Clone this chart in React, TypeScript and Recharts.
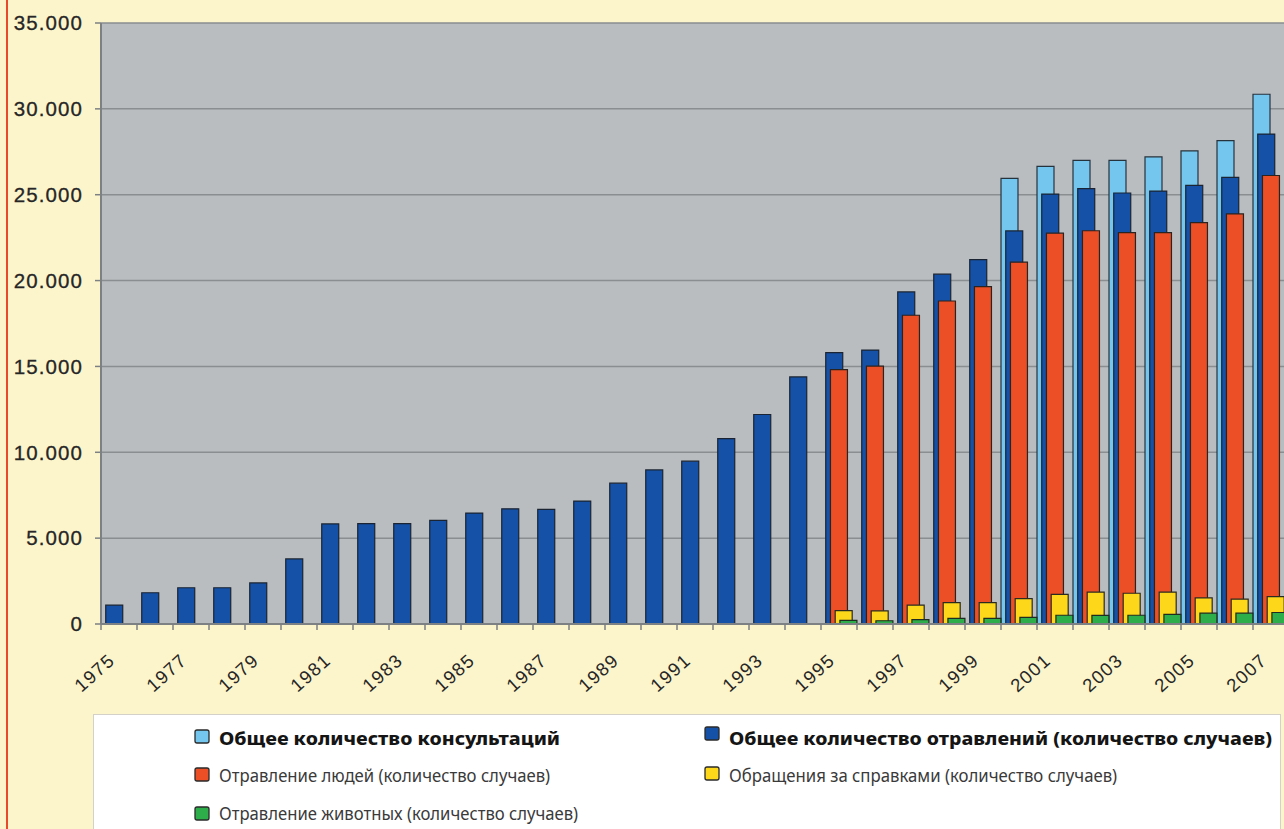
import React from 'react';
import { BarChart, Bar, XAxis, YAxis, CartesianGrid, Legend } from 'recharts';

const years = [
  '1975', '1976', '1977', '1978', '1979', '1980', '1981', '1982', '1983', '1984',
  '1985', '1986', '1987', '1988', '1989', '1990', '1991', '1992', '1993', '1994',
  '1995', '1996', '1997', '1998', '1999', '2000', '2001', '2002', '2003', '2004',
  '2005', '2006', '2007',
];

// Общее количество консультаций
const consultations: (number | null)[] = [
  null, null, null, null, null, null, null, null, null, null,
  null, null, null, null, null, null, null, null, null, null,
  null, null, null, null, null, 25950, 26650, 27000, 27000, 27200,
  27550, 28150, 30850,
];

// Общее количество отравлений (количество случаев)
const poisonings: (number | null)[] = [
  1100, 1820, 2110, 2110, 2390, 3790, 5830, 5840, 5840, 6030,
  6460, 6710, 6670, 7160, 8200, 8970, 9480, 10800, 12200, 14390,
  15800, 15950, 19340, 20370, 21220, 22890, 25040, 25360, 25100, 25210,
  25540, 26010, 28530,
];

// Отравление людей (количество случаев)
const humanPoisonings: (number | null)[] = [
  null, null, null, null, null, null, null, null, null, null,
  null, null, null, null, null, null, null, null, null, null,
  14810, 15020, 17980, 18810, 19650, 21070, 22760, 22900, 22790, 22790,
  23380, 23880, 26120,
];

// Обращения за справками (количество случаев)
const inquiries: (number | null)[] = [
  null, null, null, null, null, null, null, null, null, null,
  null, null, null, null, null, null, null, null, null, null,
  780, 770, 1100, 1240, 1240, 1480, 1730, 1860, 1790, 1860,
  1520, 1450, 1600,
];

// Отравление животных (количество случаев)
const animalPoisonings: (number | null)[] = [
  null, null, null, null, null, null, null, null, null, null,
  null, null, null, null, null, null, null, null, null, null,
  210, 190, 250, 330, 330, 390, 510, 500, 510, 560,
  630, 630, 670,
];

const yTicks = [0, 5000, 10000, 15000, 20000, 25000, 30000, 35000];

const seriesNames = {
  consultations: 'Общее количество консультаций',
  poisonings: 'Общее количество отравлений (количество случаев)',
  humanPoisonings: 'Отравление людей (количество случаев)',
  inquiries: 'Обращения за справками (количество случаев)',
  animalPoisonings: 'Отравление животных (количество случаев)',
};

const colors = {
  consultations: '#74C6EE',
  poisonings: '#1551A6',
  humanPoisonings: '#EC4E25',
  inquiries: '#FDD81A',
  animalPoisonings: '#2EAE4A',
};

const data = years.map((year, i) => ({
  year,
  consultations: consultations[i],
  poisonings: poisonings[i],
  humanPoisonings: humanPoisonings[i],
  inquiries: inquiries[i],
  animalPoisonings: animalPoisonings[i],
}));

const AXIS = '#7d8184';
const LABEL = '#262626';
const ARIAL = '"Liberation Sans", Arial, sans-serif';

const fmtY = (v: number) => (v === 0 ? '0' : (v / 1000).toFixed(3));

const XTick = (props: any) => {
  const { x, y, payload } = props;
  const idx = years.indexOf(String(payload.value));
  const tx = x - 3;
  const ty = y + 38;
  return (
    <g>
      <line x1={x - 18} x2={x - 18} y1={y} y2={y + 6} stroke={AXIS} strokeWidth={1.5} />
      {idx % 2 === 0 && (
        <text
          x={tx}
          y={ty}
          textAnchor="end"
          transform={`rotate(-42 ${tx} ${ty})`}
          fill={LABEL}
          fontSize={18.5}
          fontFamily={ARIAL}
          letterSpacing={1.3}
        >
          {payload.value}
        </text>
      )}
    </g>
  );
};

type Item = { key: keyof typeof colors; x: number; sy: number; ty: number; bold: boolean; len: number };
const legendItems: Item[] = [
  { key: 'consultations', x: 102, sy: 16, ty: 31, bold: true, len: 341 },
  { key: 'poisonings', x: 612, sy: 13, ty: 31, bold: true, len: 543 },
  { key: 'humanPoisonings', x: 102, sy: 54, ty: 68, bold: false, len: 331 },
  { key: 'inquiries', x: 612, sy: 53, ty: 68, bold: false, len: 388 },
  { key: 'animalPoisonings', x: 102, sy: 93, ty: 106, bold: false, len: 359 },
];

const LegendBox = () => (
  <svg width={1188} height={115} style={{ display: 'block' }}>
    <rect x={0.5} y={0.5} width={1187} height={120} fill="#ffffff" stroke="#d4d2c8" strokeWidth={1} />
    {legendItems.map((it) => (
      <g key={it.key}>
        <rect
          x={it.x}
          y={it.sy}
          width={14}
          height={13}
          rx={2}
          fill={colors[it.key]}
          stroke="#2a2a2a"
          strokeWidth={1.3}
        />
        <text
          x={it.x + 24}
          y={it.ty}
          fontSize={18}
          fontFamily='"Noto Sans", "Open Sans", sans-serif'
          fontWeight={it.bold ? 800 : 400}
          fill={it.bold ? '#151515' : '#3a3a3a'}
          textLength={it.len}
          lengthAdjust="spacingAndGlyphs"
        >
          {seriesNames[it.key]}
        </text>
      </g>
    ))}
  </svg>
);

export default function App() {
  return (
    <div
      style={{
        position: 'fixed',
        left: 0,
        top: 0,
        width: 1284,
        height: 829,
        overflow: 'hidden',
        background: '#FCF5CB',
        fontFamily: ARIAL,
      }}
    >
      <div style={{ position: 'absolute', left: 6, top: 0, width: 2, height: 829, background: '#E94A2C', zIndex: 2 }} />
      <BarChart
        width={1300}
        height={829}
        data={data}
        margin={{ top: 23, right: 11, bottom: 0, left: 0 }}
        barSize={17}
        barGap={-12.27}
        barCategoryGap={0}
      >
        <CartesianGrid vertical={false} fill="#B9BDBF" stroke="#8a8e91" strokeWidth={1.5} />
        <XAxis
          dataKey="year"
          height={205}
          interval={0}
          tickLine={false}
          tickSize={0}
          tickMargin={0}
          axisLine={{ stroke: AXIS, strokeWidth: 2 }}
          tick={<XTick />}
        />
        <YAxis
          width={101}
          domain={[0, 35000]}
          ticks={yTicks}
          interval={0}
          tickFormatter={fmtY}
          axisLine={{ stroke: AXIS, strokeWidth: 2 }}
          tickLine={{ stroke: AXIS, strokeWidth: 1.5 }}
          tickSize={6}
          tickMargin={12}
          tick={{ fill: LABEL, fontSize: 20.5, fontFamily: ARIAL, letterSpacing: 1.1, stroke: LABEL, strokeWidth: 0.3 }}
        />
        <Legend
          layout="horizontal"
          verticalAlign="middle"
          align="center"
          wrapperStyle={{ position: 'absolute', left: 93, top: 714, width: 1188, height: 115, margin: 0 }}
          content={() => <LegendBox />}
        />
        <Bar dataKey="consultations" name={seriesNames.consultations} fill={colors.consultations} stroke="#26323c" strokeWidth={1.2} isAnimationActive={false} />
        <Bar dataKey="poisonings" name={seriesNames.poisonings} fill={colors.poisonings} stroke="#1b2433" strokeWidth={1.2} isAnimationActive={false} />
        <Bar dataKey="humanPoisonings" name={seriesNames.humanPoisonings} fill={colors.humanPoisonings} stroke="#2b2320" strokeWidth={1.2} isAnimationActive={false} />
        <Bar dataKey="inquiries" name={seriesNames.inquiries} fill={colors.inquiries} stroke="#2b2a20" strokeWidth={1.2} isAnimationActive={false} />
        <Bar dataKey="animalPoisonings" name={seriesNames.animalPoisonings} fill={colors.animalPoisonings} stroke="#1f2b22" strokeWidth={1.2} isAnimationActive={false} />
      </BarChart>
    </div>
  );
}
